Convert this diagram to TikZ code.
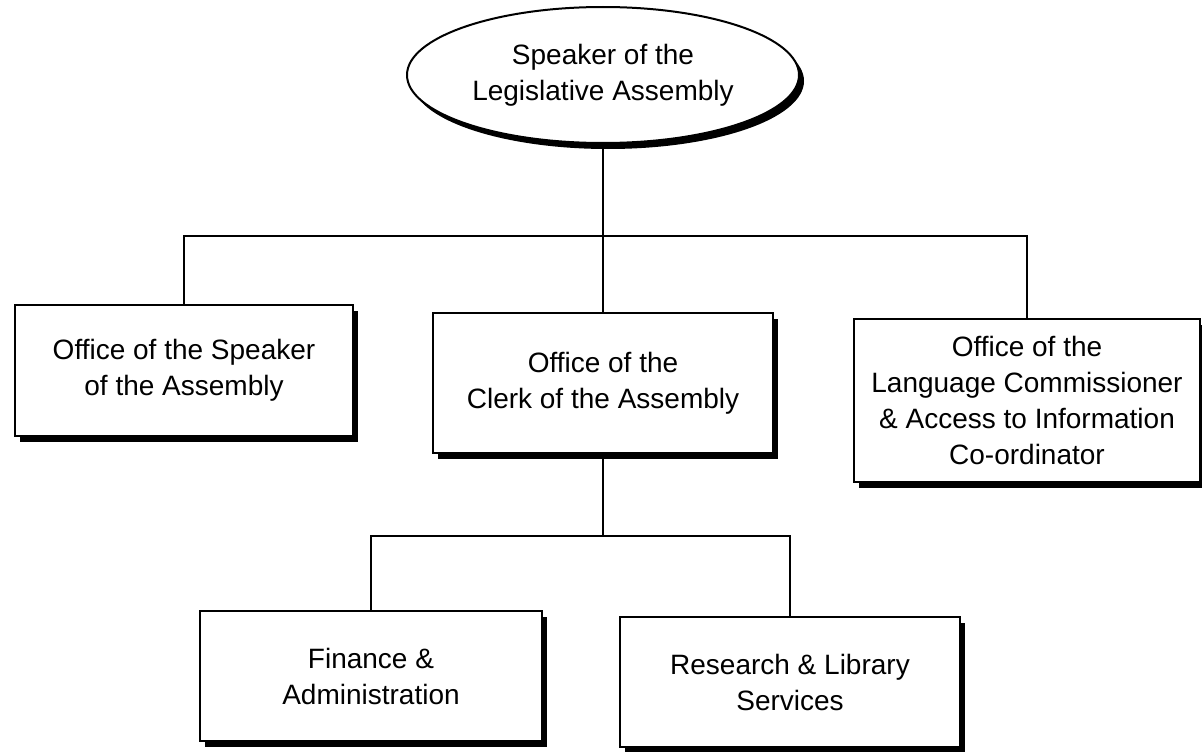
\documentclass[tikz,border=0pt]{standalone}
\usepackage{fontspec}
\setmainfont{Liberation Sans}
\usetikzlibrary{shapes.geometric,shadows}

\begin{document}
\begin{tikzpicture}[x=1pt,y=-1pt,
  label text/.style={font=\fontsize{28}{36}\selectfont, align=center, text=black},
  hard shadow/.style={drop shadow={shadow xshift=5pt, shadow yshift=-6pt, fill=black, opacity=1}},
  unitbox/.style={label text, draw=black, line width=2pt, fill=white, rectangle,
                  inner sep=0pt, hard shadow},
  headoval/.style={label text, draw=black, line width=2pt, fill=white, ellipse,
                   inner sep=0pt, minimum width=392pt, minimum height=136pt, hard shadow},
  conn/.style={draw=black, line width=1.6pt}]

\useasboundingbox[fill=white] (0,0) rectangle (1202,752);

% head of the chart
\node[headoval] (speaker) at (603,75) {Speaker of the\\Legislative Assembly};

% first level
\node[unitbox, minimum width=338pt, minimum height=131pt] (spkoffice) at (184,370)
  {Office of the Speaker\\of the Assembly};
\node[unitbox, minimum width=340pt, minimum height=140pt] (clerk) at (603,383)
  {Office of the\\Clerk of the Assembly};
\node[unitbox, minimum width=346pt, minimum height=163pt] (lang) at (1027,400)
  {Office of the\\Language Commissioner\\\& Access to Information\\Co-ordinator};

% second level
\node[unitbox, minimum width=342pt, minimum height=130pt] (finance) at (371,676)
  {Finance \&\\Administration};
\node[unitbox, minimum width=340pt, minimum height=130pt] (research) at (790,682)
  {Research \& Library\\Services};

% bus lines
\coordinate (busA) at (0,236);
\coordinate (busB) at (0,536);

\draw[conn] (speaker.south) -- (speaker.south |- busA);
\draw[conn] (spkoffice.north) -- (spkoffice.north |- busA) -- (lang.north |- busA) -- (lang.north);
\draw[conn] (speaker.south |- busA) -- (clerk.north);

\draw[conn] (clerk.south) -- (clerk.south |- busB);
\draw[conn] (finance.north) -- (finance.north |- busB) -- (research.north |- busB) -- (research.north);

\end{tikzpicture}
\end{document}
